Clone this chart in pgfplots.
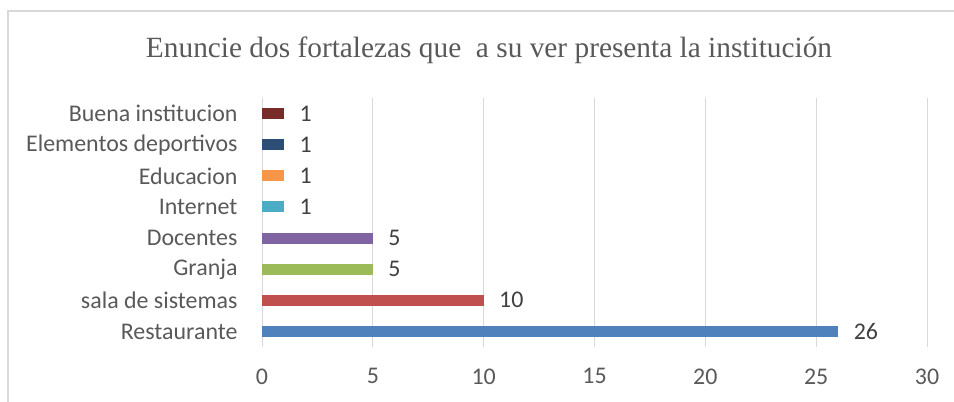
\documentclass[border=0pt]{standalone}
\usepackage{pgfplots}
\pgfplotsset{compat=1.18}
\usepackage{fontspec}
\setmainfont{Carlito}
\newfontfamily\titlefont{Liberation Serif}
\definecolor{framegray}{HTML}{D9D9D9}
\definecolor{gridgray}{HTML}{D9D9D9}
\definecolor{labgray}{HTML}{595959}
\definecolor{numgray}{HTML}{404040}
\definecolor{cRest}{HTML}{4F81BD}
\definecolor{cSala}{HTML}{C0504D}
\definecolor{cGranja}{HTML}{9BBB59}
\definecolor{cDoc}{HTML}{8064A2}
\definecolor{cInt}{HTML}{4BACC6}
\definecolor{cEdu}{HTML}{F79646}
\definecolor{cElem}{HTML}{2C4D75}
\definecolor{cBuena}{HTML}{772C2A}
\begin{document}
\begin{tikzpicture}
\path[use as bounding box] (0,0) rectangle (954bp,402bp);
\draw[draw=framegray, line width=1.3bp] (8bp,0) -- (8bp,391bp) -- (954bp,391bp);
\node[anchor=base, font=\titlefont\fontsize{29}{33}\selectfont, text=labgray, inner sep=0pt] at (489bp,344bp) {\resizebox{686bp}{!}{Enuncie dos fortalezas que\ \ a su ver presenta la institución}};
\begin{axis}[
  at={(262bp,55bp)}, anchor=south west,
  scale only axis, width=665bp, height=249bp,
  xmin=0, xmax=30, ymin=-0.5, ymax=7.5,
  xbar, bar width=11bp, bar shift=0pt,
  axis line style={draw=none},
  major tick length=0pt,
  xmajorgrids, ymajorgrids=false,
  major grid style={draw=gridgray, line width=1bp},
  xtick={0,5,...,30},
  ytick={0,...,7},
  yticklabels={Restaurante\hspace{5bp}, sala de sistemas, Granja, Docentes, Internet, Educacion, Elementos deportivos, Buena institucion},
  ticklabel style={font=\fontsize{24}{28}\selectfont, text=labgray},
  /pgf/number format/assume math mode=true,
  yticklabel style={anchor=east, xshift=-21bp},
  xticklabel style={anchor=north, yshift=-18bp},
  nodes near coords,
  point meta=x,
  nodes near coords style={anchor=west, xshift=12bp, font=\fontsize{24}{28}\selectfont, text=numgray},
  every axis plot/.append style={draw=none},
]
\addplot[fill=cRest] coordinates {(26,0)};
\addplot[fill=cSala] coordinates {(10,1)};
\addplot[fill=cGranja] coordinates {(5,2)};
\addplot[fill=cDoc] coordinates {(5,3)};
\addplot[fill=cInt] coordinates {(1,4)};
\addplot[fill=cEdu] coordinates {(1,5)};
\addplot[fill=cElem] coordinates {(1,6)};
\addplot[fill=cBuena] coordinates {(1,7)};
\end{axis}
\end{tikzpicture}
\end{document}
